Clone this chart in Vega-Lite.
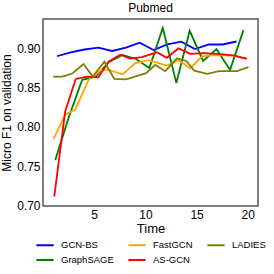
{
  "$schema": "https://vega.github.io/schema/vega-lite/v6.json",
  "width": 215,
  "height": 187,
  "autosize": {"type": "none"},
  "padding": {"left": 43, "top": 19, "right": 16, "bottom": 68},
  "background": "white",
  "title": {"text": "Pubmed", "fontSize": 12, "font": "Liberation Sans", "fontWeight": "normal", "color": "black", "offset": 4},
  "config": {
    "view": {"stroke": "#555555", "strokeWidth": 1.5},
    "font": "Liberation Sans",
    "axis": {"grid": false, "ticks": false, "domain": false, "labelColor": "black", "titleColor": "black", "labelFont": "Liberation Sans", "titleFont": "Liberation Sans", "titleFontWeight": "normal"}
  },
  "data": {"values": [
    {"method": "GCN-BS", "time": 1.36, "f1": 0.890},
    {"method": "GCN-BS", "time": 2.7, "f1": 0.8948},
    {"method": "GCN-BS", "time": 4.05, "f1": 0.8986},
    {"method": "GCN-BS", "time": 5.4, "f1": 0.9009},
    {"method": "GCN-BS", "time": 6.75, "f1": 0.8967},
    {"method": "GCN-BS", "time": 8.1, "f1": 0.9009},
    {"method": "GCN-BS", "time": 9.45, "f1": 0.9072},
    {"method": "GCN-BS", "time": 10.8, "f1": 0.898},
    {"method": "GCN-BS", "time": 12.15, "f1": 0.905},
    {"method": "GCN-BS", "time": 13.5, "f1": 0.9085},
    {"method": "GCN-BS", "time": 14.85, "f1": 0.8992},
    {"method": "GCN-BS", "time": 16.2, "f1": 0.905},
    {"method": "GCN-BS", "time": 17.55, "f1": 0.905},
    {"method": "GCN-BS", "time": 18.9, "f1": 0.9088},

    {"method": "GraphSAGE", "time": 1.2, "f1": 0.7575},
    {"method": "GraphSAGE", "time": 2.51, "f1": 0.812},
    {"method": "GraphSAGE", "time": 3.83, "f1": 0.86},
    {"method": "GraphSAGE", "time": 5.14, "f1": 0.864},
    {"method": "GraphSAGE", "time": 6.45, "f1": 0.8827},
    {"method": "GraphSAGE", "time": 7.77, "f1": 0.8916},
    {"method": "GraphSAGE", "time": 9.08, "f1": 0.8865},
    {"method": "GraphSAGE", "time": 10.39, "f1": 0.875},
    {"method": "GraphSAGE", "time": 11.7, "f1": 0.926},
    {"method": "GraphSAGE", "time": 13.02, "f1": 0.856},
    {"method": "GraphSAGE", "time": 14.33, "f1": 0.9225},
    {"method": "GraphSAGE", "time": 15.64, "f1": 0.884},
    {"method": "GraphSAGE", "time": 16.95, "f1": 0.899},
    {"method": "GraphSAGE", "time": 18.27, "f1": 0.8726},
    {"method": "GraphSAGE", "time": 19.58, "f1": 0.9233},

    {"method": "FastGCN", "time": 1.03, "f1": 0.7846},
    {"method": "FastGCN", "time": 2.17, "f1": 0.8155},
    {"method": "FastGCN", "time": 3.15, "f1": 0.822},
    {"method": "FastGCN", "time": 4.45, "f1": 0.86},
    {"method": "FastGCN", "time": 5.7, "f1": 0.8725},
    {"method": "FastGCN", "time": 6.4, "f1": 0.8726},
    {"method": "FastGCN", "time": 7.8, "f1": 0.867},
    {"method": "FastGCN", "time": 9.0, "f1": 0.881},
    {"method": "FastGCN", "time": 10.3, "f1": 0.885},
    {"method": "FastGCN", "time": 12.1, "f1": 0.878},
    {"method": "FastGCN", "time": 13.24, "f1": 0.885},
    {"method": "FastGCN", "time": 14.38, "f1": 0.8747},
    {"method": "FastGCN", "time": 15.52, "f1": 0.8895},
    {"method": "FastGCN", "time": 16.5, "f1": 0.8916},
    {"method": "FastGCN", "time": 18.45, "f1": 0.8907},
    {"method": "FastGCN", "time": 19.9, "f1": 0.8874},

    {"method": "AS-GCN", "time": 1.1, "f1": 0.711},
    {"method": "AS-GCN", "time": 2.17, "f1": 0.82},
    {"method": "AS-GCN", "time": 3.2, "f1": 0.861},
    {"method": "AS-GCN", "time": 4.3, "f1": 0.864},
    {"method": "AS-GCN", "time": 5.4, "f1": 0.863},
    {"method": "AS-GCN", "time": 6.4, "f1": 0.883},
    {"method": "AS-GCN", "time": 7.54, "f1": 0.892},
    {"method": "AS-GCN", "time": 8.52, "f1": 0.887},
    {"method": "AS-GCN", "time": 9.66, "f1": 0.889},
    {"method": "AS-GCN", "time": 11.13, "f1": 0.895},
    {"method": "AS-GCN", "time": 12.1, "f1": 0.888},
    {"method": "AS-GCN", "time": 13.24, "f1": 0.9},
    {"method": "AS-GCN", "time": 14.38, "f1": 0.893},
    {"method": "AS-GCN", "time": 15.68, "f1": 0.894},
    {"method": "AS-GCN", "time": 16.99, "f1": 0.893},
    {"method": "AS-GCN", "time": 18.6, "f1": 0.891},
    {"method": "AS-GCN", "time": 19.9, "f1": 0.8865},

    {"method": "LADIES", "time": 1.0, "f1": 0.864},
    {"method": "LADIES", "time": 1.88, "f1": 0.864},
    {"method": "LADIES", "time": 2.86, "f1": 0.868},
    {"method": "LADIES", "time": 3.96, "f1": 0.88},
    {"method": "LADIES", "time": 4.86, "f1": 0.864},
    {"method": "LADIES", "time": 6.0, "f1": 0.883},
    {"method": "LADIES", "time": 6.96, "f1": 0.861},
    {"method": "LADIES", "time": 8.13, "f1": 0.8605},
    {"method": "LADIES", "time": 9.2, "f1": 0.865},
    {"method": "LADIES", "time": 10.08, "f1": 0.8684},
    {"method": "LADIES", "time": 10.96, "f1": 0.879},
    {"method": "LADIES", "time": 11.94, "f1": 0.871},
    {"method": "LADIES", "time": 13.08, "f1": 0.8874},
    {"method": "LADIES", "time": 13.99, "f1": 0.884},
    {"method": "LADIES", "time": 14.77, "f1": 0.8717},
    {"method": "LADIES", "time": 16.04, "f1": 0.8675},
    {"method": "LADIES", "time": 17.2, "f1": 0.871},
    {"method": "LADIES", "time": 18.94, "f1": 0.871},
    {"method": "LADIES", "time": 20.07, "f1": 0.876}
  ]},
  "mark": {"type": "line", "strokeWidth": 1.8, "clip": true},
  "encoding": {
    "x": {"field": "time", "type": "quantitative", "scale": {"domain": [0, 21], "nice": false, "zero": false},
      "axis": {"title": "Time", "values": [5, 10, 15, 20], "labelFontSize": 12, "titleFontSize": 13, "labelPadding": 3, "titlePadding": 2}},
    "y": {"field": "f1", "type": "quantitative", "scale": {"domain": [0.699, 0.9375], "nice": false, "zero": false},
      "axis": {"title": "Micro F1 on validation", "values": [0.7, 0.75, 0.8, 0.85, 0.9], "format": ".2f", "labelFontSize": 12, "titleFontSize": 12, "labelPadding": 3, "titlePadding": 3}},
    "color": {"field": "method", "type": "nominal",
      "scale": {"domain": ["GCN-BS", "FastGCN", "LADIES", "GraphSAGE", "AS-GCN"], "range": ["#0000ff", "#ffa500", "#808000", "#008000", "#ff0000"]},
      "legend": {"title": null, "orient": "none", "legendX": -8, "legendY": 216, "direction": "horizontal", "columns": 3,
        "symbolType": "stroke", "symbolSize": 300, "symbolStrokeWidth": 2, "labelFontSize": 9.5, "labelFont": "Liberation Sans", "labelColor": "black",
        "labelOffset": 6, "columnPadding": 10, "rowPadding": -7, "padding": 0}
    }
  }
}
